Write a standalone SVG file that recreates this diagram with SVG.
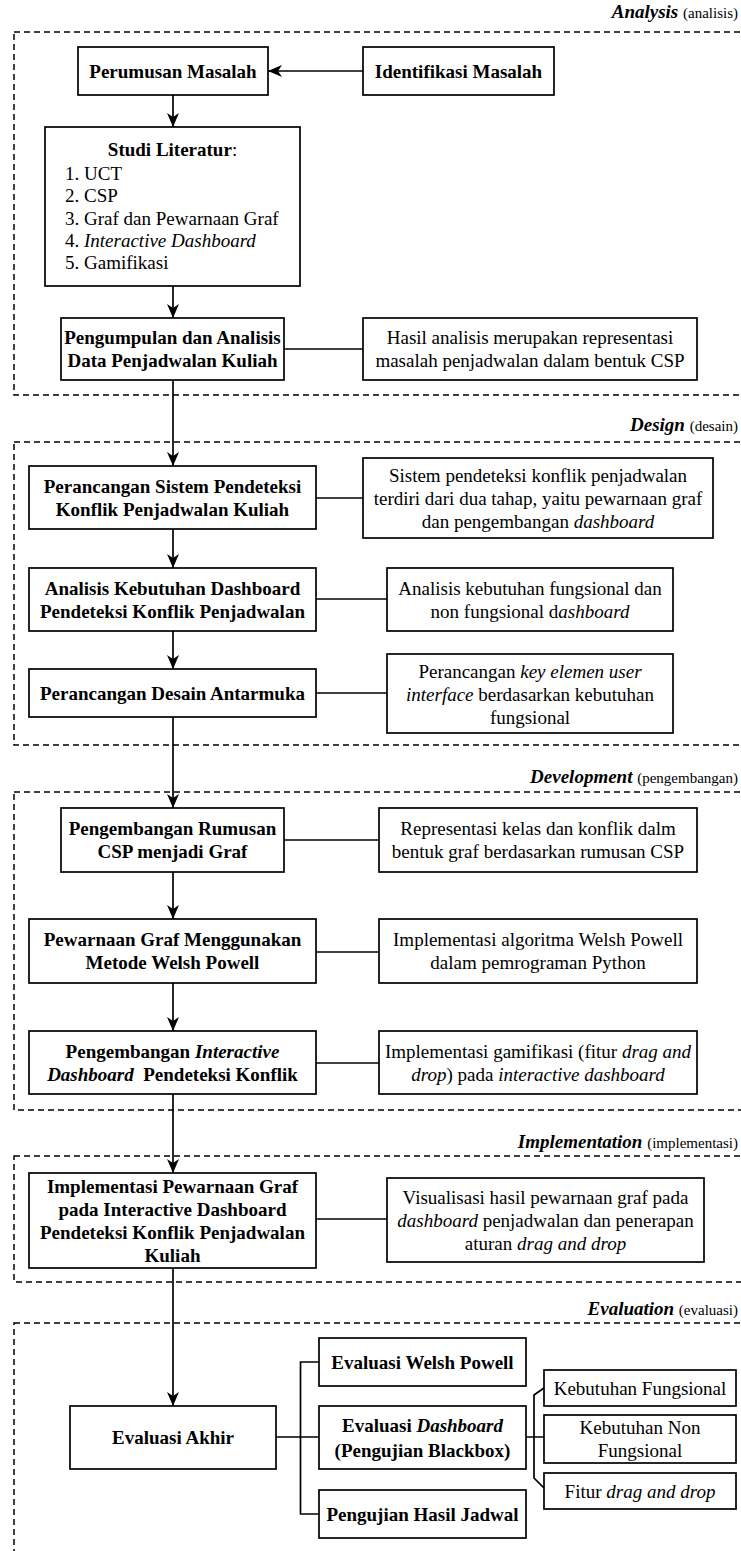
<svg xmlns="http://www.w3.org/2000/svg" width="741" height="1551" viewBox="0 0 741 1551" font-family="'Liberation Serif', 'Times New Roman', Tinos, 'DejaVu Serif', serif">
<style>
text{font-family:"Liberation Serif","Times New Roman",Tinos,"DejaVu Serif",serif;font-size:19px;fill:#000}
.b{font-weight:bold}
.i{font-style:italic}
.c{text-anchor:middle}
.lbl{text-anchor:end}
.sm{font-size:15px;font-weight:normal;font-style:normal}
.box{fill:#fff;stroke:#000;stroke-width:1.7}
.phase{fill:none;stroke:#000;stroke-width:1.5;stroke-dasharray:6 4}
.ln{fill:none;stroke:#000;stroke-width:1.7}
</style>
<defs>
<marker id="ah" viewBox="0 0 14 12" refX="14" refY="6" markerWidth="14" markerHeight="12" markerUnits="userSpaceOnUse" orient="auto">
<path d="M0,0 L14,6 L0,12 L4,6 Z" fill="#000"/>
</marker>
</defs>
<rect width="741" height="1551" fill="#fff"/>

<g id="phases">
<rect class="phase" x="14" y="32" width="731" height="363"/>
<text class="lbl b i" x="738" y="18">Analysis <tspan class="sm">(analisis)</tspan></text>
<rect class="phase" x="14" y="442" width="731" height="303"/>
<text class="lbl b i" x="738" y="431">Design <tspan class="sm">(desain)</tspan></text>
<rect class="phase" x="14" y="792" width="731" height="318"/>
<text class="lbl b i" x="738" y="783">Development <tspan class="sm">(pengembangan)</tspan></text>
<rect class="phase" x="14" y="1156" width="731" height="126"/>
<text class="lbl b i" x="738" y="1148">Implementation <tspan class="sm">(implementasi)</tspan></text>
<rect class="phase" x="14" y="1323" width="731" height="260"/>
<text class="lbl b i" x="738" y="1315">Evaluation <tspan class="sm">(evaluasi)</tspan></text>
</g>

<g id="connectors">
<path class="ln" d="M363,71 H268" marker-end="url(#ah)"/>
<path class="ln" d="M173,95 V127" marker-end="url(#ah)"/>
<path class="ln" d="M173,286 V318" marker-end="url(#ah)"/>
<path class="ln" d="M173,380 V466" marker-end="url(#ah)"/>
<path class="ln" d="M173,529 V568" marker-end="url(#ah)"/>
<path class="ln" d="M173,631 V669" marker-end="url(#ah)"/>
<path class="ln" d="M173,717 V808" marker-end="url(#ah)"/>
<path class="ln" d="M173,872 V919" marker-end="url(#ah)"/>
<path class="ln" d="M173,983 V1031" marker-end="url(#ah)"/>
<path class="ln" d="M173,1094 V1173" marker-end="url(#ah)"/>
<path class="ln" d="M173,1268 V1406" marker-end="url(#ah)"/>
<path class="ln" d="M284,349 H363"/>
<path class="ln" d="M316,498 H363"/>
<path class="ln" d="M316,599 H387"/>
<path class="ln" d="M316,693 H387"/>
<path class="ln" d="M284,840 H379"/>
<path class="ln" d="M316,952 H379"/>
<path class="ln" d="M316,1063 H379"/>
<path class="ln" d="M316,1219 H387"/>
<path class="ln" d="M276,1437 H319 M319,1362 H300.5 V1514 H319"/>
<path class="ln" d="M526,1437 H544 M544,1388 L534,1395 V1478 L544,1488"/>
</g>

<g id="n1"><rect class="box" x="78" y="47" width="190" height="48"/>
<text class="b c" x="173" y="77.5">Perumusan Masalah</text></g>
<g id="n2"><rect class="box" x="363" y="47" width="191" height="48"/>
<text class="b c" x="458.5" y="77.5">Identifikasi Masalah</text></g>
<g id="n3"><rect class="box" x="45" y="127" width="255" height="159"/>
<text class="c" x="172.5" y="156"><tspan class="b">Studi Literatur</tspan>:</text>
<text x="65" y="180">1. UCT</text>
<text x="65" y="202">2. CSP</text>
<text x="65" y="225">3. Graf dan Pewarnaan Graf</text>
<text x="65" y="247">4. <tspan class="i">Interactive Dashboard</tspan></text>
<text x="65" y="269">5. Gamifikasi</text></g>
<g id="n4"><rect class="box" x="61" y="318" width="223" height="62"/>
<text class="b c" x="172.5" y="344">Pengumpulan dan Analisis</text>
<text class="b c" x="172.5" y="367">Data Penjadwalan Kuliah</text></g>
<g id="n5"><rect class="box" x="363" y="318" width="334" height="62"/>
<text class="c" x="530" y="344">Hasil analisis merupakan representasi</text>
<text class="c" x="530" y="367">masalah penjadwalan dalam bentuk CSP</text></g>

<g id="n6"><rect class="box" x="29" y="466" width="287" height="63"/>
<text class="b c" x="172.5" y="493">Perancangan Sistem Pendeteksi</text>
<text class="b c" x="172.5" y="516">Konflik Penjadwalan Kuliah</text></g>
<g id="n7"><rect class="box" x="363" y="458" width="350" height="80"/>
<text class="c" x="538" y="482">Sistem pendeteksi konflik penjadwalan</text>
<text class="c" x="538" y="505">terdiri dari dua tahap, yaitu pewarnaan graf</text>
<text class="c" x="538" y="528">dan pengembangan <tspan class="i">dashboard</tspan></text></g>
<g id="n8"><rect class="box" x="29" y="568" width="287" height="63"/>
<text class="b c" x="172.5" y="594.5">Analisis Kebutuhan Dashboard</text>
<text class="b c" x="172.5" y="617.5">Pendeteksi Konflik Penjadwalan</text></g>
<g id="n9"><rect class="box" x="387" y="568" width="286" height="63"/>
<text class="c" x="530" y="594.5">Analisis kebutuhan fungsional dan</text>
<text class="c" x="530" y="617.5">non fungsional d<tspan class="i">ashboard</tspan></text></g>
<g id="n10"><rect class="box" x="29" y="669" width="287" height="48"/>
<text class="b c" x="172.5" y="699.5">Perancangan Desain Antarmuka</text></g>
<g id="n11"><rect class="box" x="387" y="654" width="286" height="79"/>
<text class="c" x="530" y="677.5">Perancangan <tspan class="i">key elemen user</tspan></text>
<text class="c" x="530" y="700.5"><tspan class="i">interface</tspan> berdasarkan kebutuhan</text>
<text class="c" x="530" y="723.5">fungsional</text></g>

<g id="n12"><rect class="box" x="61" y="808" width="223" height="64"/>
<text class="b c" x="172.5" y="835">Pengembangan Rumusan</text>
<text class="b c" x="172.5" y="858">CSP menjadi Graf</text></g>
<g id="n13"><rect class="box" x="379" y="808" width="318" height="64"/>
<text class="c" x="538" y="835">Representasi kelas dan konflik dalm</text>
<text class="c" x="538" y="858">bentuk graf berdasarkan rumusan CSP</text></g>
<g id="n14"><rect class="box" x="29" y="919" width="287" height="64"/>
<text class="b c" x="172.5" y="946">Pewarnaan Graf Menggunakan</text>
<text class="b c" x="172.5" y="969">Metode Welsh Powell</text></g>
<g id="n15"><rect class="box" x="379" y="919" width="318" height="64"/>
<text class="c" x="538" y="946">Implementasi algoritma Welsh Powell</text>
<text class="c" x="538" y="969">dalam pemrograman Python</text></g>
<g id="n16"><rect class="box" x="29" y="1031" width="287" height="63"/>
<text class="b c" x="172.5" y="1057.5">Pengembangan <tspan class="i">Interactive</tspan></text>
<text class="b c" x="172.5" y="1080.5" xml:space="preserve"><tspan class="i">Dashboard</tspan>  Pendeteksi Konflik</text></g>
<g id="n17"><rect class="box" x="379" y="1031" width="318" height="63"/>
<text class="c" x="538" y="1057.5">Implementasi gamifikasi (fitur <tspan class="i">drag and</tspan></text>
<text class="c" x="538" y="1080.5"><tspan class="i">drop</tspan>) pada <tspan class="i">interactive dashboard</tspan></text></g>

<g id="n18"><rect class="box" x="29" y="1173" width="287" height="95"/>
<text class="b c" x="172.5" y="1193">Implementasi Pewarnaan Graf</text>
<text class="b c" x="172.5" y="1216">pada Interactive Dashboard</text>
<text class="b c" x="172.5" y="1239">Pendeteksi Konflik Penjadwalan</text>
<text class="b c" x="172.5" y="1262">Kuliah</text></g>
<g id="n19"><rect class="box" x="387" y="1178" width="317" height="84"/>
<text class="c" x="545.5" y="1204">Visualisasi hasil pewarnaan graf pada</text>
<text class="c" x="545.5" y="1227"><tspan class="i">dashboard</tspan> penjadwalan dan penerapan</text>
<text class="c" x="545.5" y="1250">aturan <tspan class="i">drag and drop</tspan></text></g>

<g id="n20"><rect class="box" x="70" y="1406" width="206" height="63"/>
<text class="b c" x="173" y="1444">Evaluasi Akhir</text></g>
<g id="n21"><rect class="box" x="319" y="1338" width="207" height="48"/>
<text class="b c" x="422.5" y="1368.5">Evaluasi Welsh Powell</text></g>
<g id="n22"><rect class="box" x="319" y="1406" width="207" height="63"/>
<text class="b c" x="422.5" y="1432">Evaluasi <tspan class="i">Dashboard</tspan></text>
<text class="b c" x="422.5" y="1457">(Pengujian Blackbox)</text></g>
<g id="n23"><rect class="box" x="319" y="1490" width="207" height="48"/>
<text class="b c" x="422.5" y="1520.5">Pengujian Hasil Jadwal</text></g>
<g id="n24"><rect class="box" x="544" y="1370" width="192" height="36"/>
<text class="c" x="640" y="1394.5">Kebutuhan Fungsional</text></g>
<g id="n25"><rect class="box" x="544" y="1415" width="192" height="48"/>
<text class="c" x="640" y="1434">Kebutuhan Non</text>
<text class="c" x="640" y="1457">Fungsional</text></g>
<g id="n26"><rect class="box" x="544" y="1473" width="192" height="36"/>
<text class="c" x="640" y="1497.5">Fitur <tspan class="i">drag and drop</tspan></text></g>
</svg>
